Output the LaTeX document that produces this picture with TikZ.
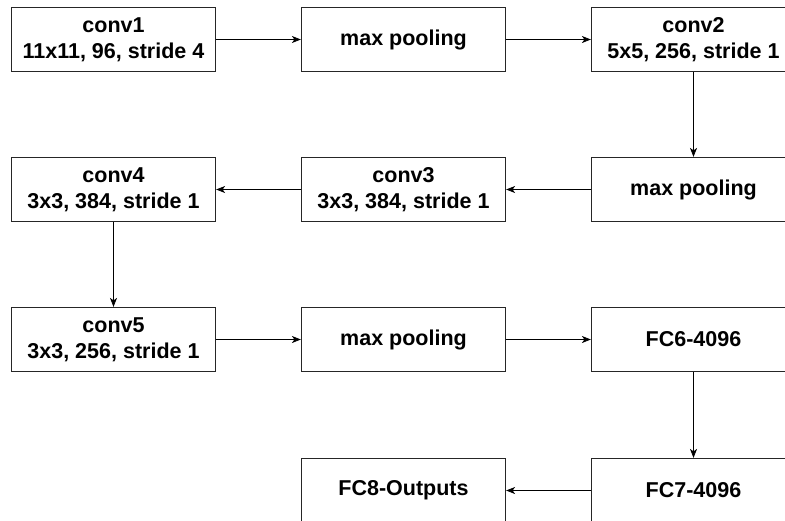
\documentclass[tikz,border=0pt]{standalone}
\usepackage{fontspec}
\setmainfont{Liberation Sans}
\usetikzlibrary{arrows.meta}
\begin{document}
\begin{tikzpicture}[x=1pt,y=-1pt,
  layer/.style={draw=black!85, line width=1.2pt, fill=white,
    minimum width=204pt, minimum height=64pt, inner sep=0pt,
    align=center, font=\fontsize{21.5}{26}\selectfont\bfseries},
  flow/.style={draw=black, line width=0.9pt,
    -{Stealth[length=9pt,width=7pt,inset=2.5pt]}}]
  \useasboundingbox (0,0) rectangle (785,520);
  \clip (0,0) rectangle (785,520);
  % row 1
  \node[layer] (c1) at (113.5,39.5) {conv1\\11x11, 96, stride 4};
  \node[layer] (p1) at (403.5,39.5) {max pooling};
  \node[layer] (c2) at (693.5,39.5) {conv2\\5x5, 256, stride 1};
  % row 2
  \node[layer] (p2) at (693.5,189.5) {max pooling};
  \node[layer] (c3) at (403.5,189.5) {conv3\\3x3, 384, stride 1};
  \node[layer] (c4) at (113.5,189.5) {conv4\\3x3, 384, stride 1};
  % row 3
  \node[layer] (c5) at (113.5,339.5) {conv5\\3x3, 256, stride 1};
  \node[layer] (p3) at (403.5,339.5) {max pooling};
  \node[layer] (f6) at (693.5,339.5) {FC6-4096};
  % row 4
  \node[layer] (f7) at (693.5,490.5) {FC7-4096};
  \node[layer] (f8) at (403.5,490.5) {FC8-Outputs};
  % connectors
  \draw[flow] (c1) -- (p1);
  \draw[flow] (p1) -- (c2);
  \draw[flow] (c2) -- (p2);
  \draw[flow] (p2) -- (c3);
  \draw[flow] (c3) -- (c4);
  \draw[flow] (c4) -- (c5);
  \draw[flow] (c5) -- (p3);
  \draw[flow] (p3) -- (f6);
  \draw[flow] (f6) -- (f7);
  \draw[flow] (f7) -- (f8);
\end{tikzpicture}
\end{document}
